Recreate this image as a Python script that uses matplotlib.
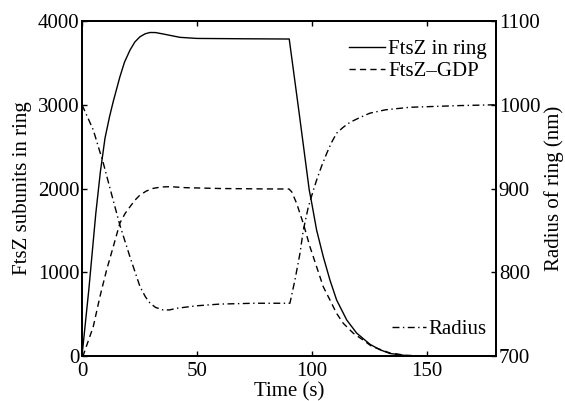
import matplotlib
matplotlib.use("Agg")
import matplotlib.pyplot as plt

plt.rcParams["font.family"] = ["Liberation Serif", "DejaVu Serif"]
plt.rcParams["font.size"] = 15

# FtsZ in ring (solid)
ring_t = [0, 3, 6, 8, 10, 12, 13.6, 16.5, 18.5, 20.9, 23, 25.2, 27.5, 29.6,
          32, 35.3, 42.6, 50, 70, 90.1, 94.5, 98.8, 99.9, 102, 104.9, 107.8,
          110.7, 115.1, 119.4, 125.2, 129.5, 133.9, 141, 150, 180]
ring_v = [0, 800, 1700, 2200, 2600, 2860, 3040, 3335, 3510, 3654, 3750, 3812,
          3848, 3863, 3862, 3845, 3805, 3792, 3788, 3785, 2883, 1982, 1824,
          1504, 1186, 907, 669, 430, 274, 140, 75, 30, 5, 0, 0]

# FtsZ-GDP (dashed)
gdp_t = [0, 0.6, 4.9, 7.8, 10.7, 13.6, 16.5, 18.7, 20.9, 23, 25.2, 28, 31,
         34.5, 38.3, 45, 60, 80, 90, 91.2, 93.3, 96.2, 99.1, 102, 104.9, 107.8,
         110.7, 113.6, 118, 122, 126, 134, 141, 150, 180]
gdp_v = [0, 12, 350, 708, 1027, 1305, 1588, 1700, 1783, 1860, 1922, 1970, 2002,
         2018, 2022, 2010, 2000, 1995, 1994, 1960, 1824, 1584, 1305, 1066, 827,
         669, 509, 390, 271, 195, 115, 35, 8, 0, 0]

# Radius of ring (dash-dot, right axis)
rad_t = [0, 4.9, 9.3, 12.2, 16.5, 20.9, 25.2, 27.5, 29.6, 32, 35.3, 38, 41.2,
         50, 60, 75, 90.4, 92.6, 94.8, 96.2, 98.4, 100.6, 102, 104.2, 106.4,
         108.5, 110.7, 113.5, 116.5, 121, 125.2, 132, 142.6, 164, 180]
rad_v = [1000, 970, 930, 900, 856, 818, 783, 771, 763, 758, 755, 755, 757, 760,
         762, 763, 763, 791, 823, 850, 878, 898, 910, 927, 942, 955, 966, 973,
         979, 985, 990, 994, 997, 999, 1000]

fig = plt.figure(figsize=(5.65, 4.01), dpi=100)
ax = fig.add_axes([0.1451, 0.1122, 0.7328, 0.8354])
ax2 = ax.twinx()

l1, = ax.plot(ring_t, ring_v, color="black", lw=1.0, label="FtsZ in ring")
l2, = ax.plot(gdp_t, gdp_v, color="black", lw=1.0, dashes=(4.5, 3),
              label="FtsZ\u2013GDP")
l3, = ax2.plot(rad_t, rad_v, color="black", lw=1.0, dashes=(5, 2.5, 1, 2.5),
               label="Radius")

ax.set_xlim(0, 180)
ax.set_ylim(0, 4000)
ax2.set_ylim(700, 1100)
ax.set_xticks([0, 50, 100, 150])
ax.set_yticks([0, 1000, 2000, 3000, 4000])
ax2.set_yticks([700, 800, 900, 1000, 1100])

ax.set_xlabel("Time (s)", labelpad=1)
ax.set_ylabel("FtsZ subunits in ring", labelpad=4)
ax2.set_ylabel("Radius of ring (nm)", labelpad=3)

ax.tick_params(axis="x", direction="in", length=3.5, width=1, top=True, pad=4)
ax.tick_params(axis="y", direction="in", length=3.5, width=1, right=False, pad=2)
ax2.tick_params(direction="in", length=3.5, width=1, pad=2)
for a in (ax, ax2):
    for s in a.spines.values():
        s.set_linewidth(1.3)

leg1 = ax2.legend([l1, l2], [l1.get_label(), l2.get_label()], loc="upper right",
                  bbox_to_anchor=(0.978, 0.945), frameon=False, borderpad=0,
                  borderaxespad=0, handlelength=1.75, handletextpad=0.15,
                  labelspacing=0.12)
ax2.add_artist(leg1)
ax2.legend([l3], [l3.get_label()], loc="lower right",
           bbox_to_anchor=(0.978, 0.05), frameon=False, borderpad=0,
           borderaxespad=0, handlelength=1.6, handletextpad=0.15)

fig.savefig("out.png", dpi=100)
